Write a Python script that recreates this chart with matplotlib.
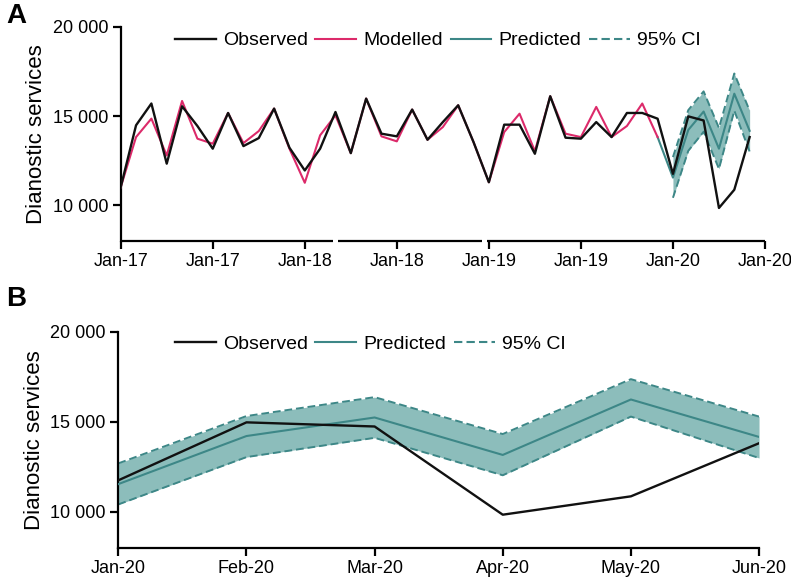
import matplotlib
matplotlib.use("Agg")
import matplotlib.pyplot as plt
from matplotlib.ticker import FuncFormatter
from matplotlib.lines import Line2D
import numpy as np

plt.rcParams['font.family'] = ['Liberation Sans', 'DejaVu Sans']

# ---------------- data ----------------
observed_a = [11010, 14480, 15700, 12330, 15545, 14440, 13170, 15170, 13315, 13764,
              15415, 13225, 11950, 13170, 15225, 12920, 15975, 14010, 13860, 15360,
              13670, 14660, 15600, 13540, 11290, 14515, 14515, 12885, 16107, 13785,
              13730, 14660, 13820, 15170, 15170, 14850, 11760, 14980, 14750, 9850,
              10870, 13820]
modelled_a = [11010, 13820, 14854, 12790, 15843, 13730, 13450, 15170, 13483, 14157,
              15415, 13170, 11260, 13920, 15040, 12920, 15975, 13860, 13580, 15360,
              13670, 14380, 15600, 13540, 11290, 14100, 15130, 13030, 16107, 14010,
              13820, 15510, 13820, 14440, 15700, 13820]
# predicted from month index 35 (end of modelled) to 41
predicted_a = [13820, 11550, 14220, 15250, 13170, 16250, 14170]
ci_upper = [12700, 15330, 16380, 14330, 17380, 15300]
ci_lower = [10420, 13050, 14120, 12040, 15300, 13000]

tick_labels_a = ['Jan-17', 'Jan-17', 'Jan-18', 'Jan-18', 'Jan-19', 'Jan-19', 'Jan-20', 'Jan-20']
months_b = ['Jan-20', 'Feb-20', 'Mar-20', 'Apr-20', 'May-20', 'Jun-20']
observed_b = observed_a[36:]
predicted_b = predicted_a[1:]

# ---------------- style ----------------
BLACK = '#111111'
PINK = '#dc2a6a'
TEAL = '#3d8787'
FILL = '#8cbdbb'
DASH = (0, (4, 2))

fig = plt.figure(figsize=(7.91, 5.81), dpi=100)

def fmt(v, pos):
    return f"{int(v):,}".replace(",", " ")

def style_axis(ax):
    ax.spines['top'].set_visible(False)
    ax.spines['right'].set_visible(False)
    ax.spines['left'].set_linewidth(1.6)
    ax.spines['bottom'].set_linewidth(1.6)
    ax.tick_params(axis='both', direction='out', length=6, width=1.6,
                   labelsize=13, colors='black', pad=3)
    ax.set_ylim(8000, 20000)
    ax.set_yticks([10000, 15000, 20000])
    ax.yaxis.set_major_formatter(FuncFormatter(fmt))
    ax.set_ylabel('Dianostic services', fontsize=16, labelpad=4)

leg_kw = dict(loc='center left', frameon=False, fontsize=14, handlelength=2.1,
              handletextpad=0.36, columnspacing=0.4, borderaxespad=0, borderpad=0)

# ---------------- panel A ----------------
axA = fig.add_axes([0.1526, 0.5852, 0.8145, 0.3688])
style_axis(axA)
xa = np.arange(len(observed_a))
xm = np.arange(len(modelled_a))
xp = np.arange(35, 35 + len(predicted_a))
xc = np.arange(36, 36 + len(ci_upper))

axA.fill_between(xc, ci_lower, ci_upper, color=FILL, lw=0, zorder=1)
axA.plot(xc, ci_upper, color=TEAL, lw=1.4, ls=DASH, zorder=2)
axA.plot(xc, ci_lower, color=TEAL, lw=1.4, ls=DASH, zorder=2)
axA.plot(xp, predicted_a, color=TEAL, lw=1.5, zorder=3)
axA.plot(xm, modelled_a, color=PINK, lw=1.5, zorder=4)
axA.plot(xa, observed_a, color=BLACK, lw=1.7, zorder=5)

axA.set_xlim(0, 42)
axA.set_xticks(np.arange(0, 43, 6))
axA.set_xticklabels(tick_labels_a)
axA.spines['bottom'].set_visible(False)
for x0, x1 in [(0, 13.83), (14.16, 23.55), (23.87, 42)]:
    axA.add_line(Line2D([x0, x1], [0, 0], transform=axA.get_xaxis_transform(),
                        color='black', lw=1.6, clip_on=False, solid_capstyle='butt'))

hA = [Line2D([], [], color=BLACK, lw=1.7),
      Line2D([], [], color=PINK, lw=1.5),
      Line2D([], [], color=TEAL, lw=1.5),
      Line2D([], [], color=TEAL, lw=1.5, ls=DASH)]
fig.legend(hA, ['Observed', 'Modelled', 'Predicted', '95% CI'], ncol=4,
           bbox_to_anchor=(0.221, 0.930), **leg_kw)

# ---------------- panel B ----------------
axB = fig.add_axes([0.1496, 0.0568, 0.8100, 0.3718])
style_axis(axB)
xb = np.arange(len(months_b))
axB.fill_between(xb, ci_lower, ci_upper, color=FILL, lw=0, zorder=1)
axB.plot(xb, ci_upper, color=TEAL, lw=1.4, ls=DASH, zorder=2)
axB.plot(xb, ci_lower, color=TEAL, lw=1.4, ls=DASH, zorder=2)
axB.plot(xb, predicted_b, color=TEAL, lw=1.5, zorder=3)
axB.plot(xb, observed_b, color=BLACK, lw=1.7, zorder=5)
axB.set_xlim(0, 5)
axB.set_xticks(xb)
axB.set_xticklabels(months_b)

hB = [Line2D([], [], color=BLACK, lw=1.7),
      Line2D([], [], color=TEAL, lw=1.5),
      Line2D([], [], color=TEAL, lw=1.5, ls=DASH)]
fig.legend(hB, ['Observed', 'Predicted', '95% CI'], ncol=3,
           bbox_to_anchor=(0.221, 0.408), **leg_kw)

fig.text(0.008, 0.972, 'A', fontsize=20, fontweight='bold', va='center', ha='left')
fig.text(0.008, 0.485, 'B', fontsize=20, fontweight='bold', va='center', ha='left')

fig.savefig('out.png', dpi=100)
